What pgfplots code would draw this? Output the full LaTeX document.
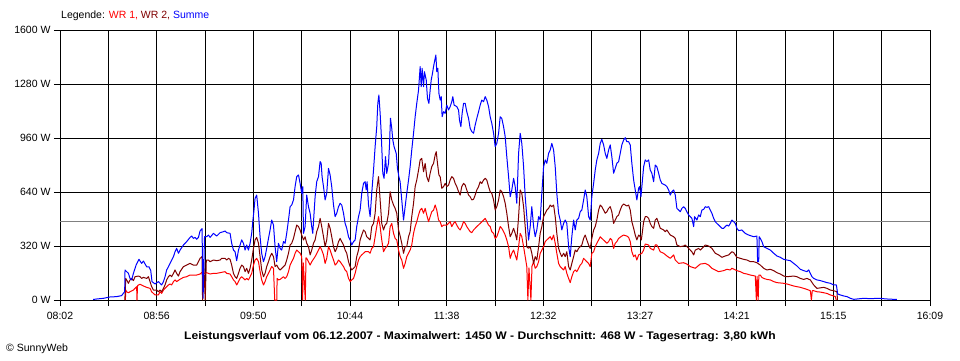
\documentclass[border=0pt]{standalone}
\usepackage{fontspec}
\setmainfont{Liberation Sans}
\usepackage{pgfplots}
\pgfplotsset{compat=1.18}
\definecolor{wrone}{RGB}{255,0,0}
\definecolor{wrtwo}{RGB}{128,0,0}
\definecolor{summe}{RGB}{0,0,255}
\definecolor{avg}{RGB}{128,128,128}
\begin{document}
\fontsize{10pt}{12pt}\selectfont
\begin{tikzpicture}[x=1pt,y=1pt]
\useasboundingbox (0,0) rectangle (960,360);
\begin{axis}[
  at={(60pt,60pt)}, anchor=south west,
  scale only axis, width=870pt, height=270pt,
  xmin=482, xmax=969, ymin=0, ymax=1600,
  xtick={482,509.056,536.111,563.167,590.222,617.278,644.333,671.389,698.444,725.5,752.556,779.611,806.667,833.722,860.778,887.833,914.889,941.944,969},
  xticklabels={08:02,,08:56,,09:50,,10:44,,11:38,,12:32,,13:27,,14:21,,15:15,,16:09},
  ytick={0,320,640,960,1280,1600},
  yticklabels={0 W,320 W,640 W,960 W,1280 W,1600 W},
  grid=major, major grid style={black, line width=1pt},
  axis line style={black, line width=1pt},
  tick pos=left, tick align=outside, major tick length=6pt,
  tick style={black, line width=1pt},
  ticklabel style={font=\fontsize{10.5}{12}\selectfont},
  xticklabel style={yshift=-3pt},
  every axis plot/.append style={line width=1pt, line join=round},
]
\addplot[avg, forget plot] coordinates {(482,468) (969,468)};
% WR 1
\addplot[wrone] coordinates {
(518.6,0) (518.8,59) (519.3,49) (520.3,43) (521.2,49) (523.1,59) (524.0,69) (524.9,79) (525.1,0) (525.4,84) (525.9,89) (526.8,93) (528.7,83) (530.5,75) (532.4,69) (533.3,49) (534.3,39) (535.2,30) (537.1,30) (538.0,49) (538.9,39) (539.9,59) (541.7,79) (542.7,89) (543.6,95) (544.5,89) (545.5,109) (546.4,119) (547.3,109) (549.2,123) (551.1,134) (552.9,138) (554.8,148) (556.7,148) (558.5,148) (560.4,154) (561.3,162) (563.2,158) (564.1,162) (566.0,154) (567.9,158) (569.7,158) (571.6,162) (574.4,168) (575.3,158) (577.2,154) (578.1,138) (579.1,119) (580.0,109) (580.9,89) (581.9,109) (582.8,128) (583.7,138) (585.6,119) (586.5,128) (587.5,119) (588.4,138) (589.3,158) (590.3,207) (591.2,237) (592.1,247) (593.1,227) (594.0,168) (594.9,119) (595.9,89) (596.8,109) (597.7,138) (598.7,158) (599.6,178) (600.5,198) (601.5,188) (602.2,0) (603.4,0) (603.5,128) (604.3,119) (605.2,122) (607.1,138) (608.0,128) (608.9,138) (609.9,168) (610.8,207) (611.7,227) (612.7,247) (613.6,277) (614.5,296) (615.5,286) (616.4,277) (617.3,257) (617.8,0) (618.2,220) (619.3,0) (619.7,250) (620.1,247) (621.1,227) (622.0,207) (622.9,227) (624.8,257) (626.7,296) (627.6,316) (628.5,296) (629.5,267) (630.4,217) (631.3,247) (632.3,316) (633.2,296) (634.1,267) (635.1,237) (636.0,207) (636.9,217) (637.9,237) (638.8,227) (640.7,198) (641.6,178) (642.5,168) (643.5,128) (644.4,109) (645.3,119) (646.3,128) (647.2,158) (648.1,198) (649.1,237) (650.0,257) (650.9,267) (652.8,286) (654.7,286) (655.6,277) (656.5,306) (657.5,316) (658.4,375) (659.3,435) (660.3,494) (661.2,435) (662.1,356) (663.1,286) (664.0,306) (664.9,316) (665.9,336) (666.8,435) (667.7,454) (668.7,395) (669.6,365) (670.5,356) (671.5,296) (672.4,257) (673.3,237) (674.3,188) (675.2,217) (676.1,257) (677.1,277) (678.0,296) (678.9,326) (679.9,395) (680.8,435) (681.7,464) (682.7,504) (683.6,533) (684.5,543) (685.5,514) (686.4,543) (687.3,504) (688.3,464) (689.2,494) (690.1,523) (691.1,533) (692.0,563) (692.9,533) (693.9,474) (694.8,464) (695.7,435) (696.7,444) (698.5,444) (699.5,454) (700.4,464) (701.3,435) (702.3,454) (703.2,464) (704.1,444) (705.1,425) (706.0,415) (706.9,435) (707.9,464) (708.8,454) (709.7,435) (711.6,405) (712.5,399) (713.5,415) (715.3,435) (717.2,454) (719.1,474) (720.0,484) (720.9,464) (721.9,444) (722.8,435) (723.7,405) (724.7,395) (725.6,365) (726.5,375) (727.5,405) (728.4,435) (729.3,425) (730.3,405) (731.2,385) (732.1,356) (733.1,316) (734.0,247) (734.9,277) (735.9,296) (736.8,267) (737.7,237) (738.7,316) (739.6,395) (740.5,375) (741.5,316) (742.4,257) (743.3,198) (743.9,0) (744.5,190) (745.6,0) (746.2,200) (747.1,227) (748.0,188) (748.9,198) (749.9,227) (750.8,277) (751.7,296) (752.7,316) (753.6,346) (754.5,356) (756.4,375) (757.3,356) (758.3,385) (759.2,336) (760.1,277) (761.1,217) (762.0,198) (762.9,188) (763.9,178) (764.8,198) (765.7,158) (766.7,128) (767.6,103) (768.5,138) (769.5,168) (770.4,178) (771.3,168) (772.3,188) (773.2,207) (774.1,217) (775.1,247) (776.0,237) (776.9,227) (777.9,217) (778.8,198) (779.7,277) (780.7,286) (781.6,316) (782.5,336) (783.5,356) (784.4,375) (785.3,365) (787.2,346) (788.1,336) (789.1,346) (790.0,365) (790.9,356) (791.9,306) (792.8,336) (793.7,346) (794.7,365) (796.5,379) (797.5,385) (799.3,379) (800.3,371) (801.2,346) (802.1,286) (803.1,257) (804.0,267) (804.9,237) (805.9,267) (807.7,277) (808.7,296) (809.6,332) (811.5,326) (812.4,306) (814.3,296) (815.2,326) (816.1,326) (817.1,306) (818.0,286) (819.9,277) (821.7,261) (823.6,247) (825.5,267) (826.4,237) (828.3,217) (831.1,221) (832.9,213) (834.8,198) (837.6,188) (840.4,213) (843.2,217) (845.1,207) (846.9,188) (848.8,178) (850.7,168) (853.5,174) (855.3,182) (857.2,178) (858.1,188) (860.9,174) (862.8,168) (864.7,158) (866.5,154) (868.4,148) (871.2,142) (871.8,0) (872.2,140) (872.8,0) (873.2,148) (874.0,148) (874.9,134) (875.9,128) (877.7,122) (879.6,119) (881.5,109) (883.3,103) (887.1,99) (888.9,95) (890.8,89) (892.7,83) (894.5,79) (896.4,75) (898.3,69) (900.1,63) (902.0,55) (902.6,0) (903.1,55) (903.9,55) (905.7,49) (907.6,47) (909.5,43) (911.3,39) (913.2,30) (915.1,24) (916.0,20) (916.5,0)
};
% WR 2
\addplot[wrtwo] coordinates {
(518.3,0) (518.8,128) (519.3,119) (520.3,99) (521.2,119) (522.1,128) (523.1,115) (524.0,138) (525.9,142) (526.8,138) (527.7,128) (528.7,134) (530.5,128) (531.5,138) (532.4,109) (533.3,79) (534.3,59) (536.1,59) (537.1,49) (538.0,59) (538.9,49) (539.9,69) (540.8,89) (541.7,119) (542.7,138) (543.6,148) (544.5,138) (545.5,158) (546.4,178) (547.3,158) (548.3,142) (549.2,168) (551.1,198) (552.9,207) (554.8,217) (556.7,207) (558.5,207) (559.5,227) (560.4,247) (561.5,257) (561.8,0) (562.4,240) (563.3,0) (563.9,237) (565.1,237) (566.0,227) (567.9,237) (569.7,233) (571.6,237) (572.5,247) (574.4,247) (575.3,237) (576.3,247) (577.2,241) (578.1,207) (579.1,158) (580.0,138) (580.9,128) (581.9,158) (582.8,188) (583.7,207) (584.7,198) (585.6,168) (586.5,188) (587.5,158) (588.4,188) (589.3,237) (590.3,306) (591.2,356) (592.1,371) (593.1,336) (594.0,257) (594.9,178) (595.9,138) (596.8,158) (597.7,198) (598.7,227) (599.6,257) (600.5,277) (601.5,257) (602.4,198) (603.3,207) (604.3,188) (605.2,178) (607.1,198) (608.0,207) (608.9,237) (609.9,277) (610.8,326) (611.7,336) (612.7,365) (613.6,405) (614.5,444) (615.5,435) (616.4,415) (617.3,385) (618.3,356) (619.2,375) (620.1,336) (621.1,316) (622.0,267) (622.9,296) (623.9,336) (624.8,356) (625.7,405) (626.7,435) (627.6,484) (628.5,435) (629.5,375) (630.4,316) (631.3,356) (632.3,454) (633.2,425) (634.1,375) (635.1,316) (636.0,286) (636.9,306) (637.9,346) (638.8,365) (639.7,346) (640.7,326) (641.6,296) (642.5,277) (643.5,227) (644.4,198) (645.3,178) (646.3,188) (647.2,198) (648.1,257) (649.1,296) (650.0,356) (650.9,385) (651.9,415) (652.8,405) (653.7,375) (655.6,356) (656.5,435) (657.5,454) (658.4,514) (659.3,652) (660.3,731) (661.2,593) (662.1,454) (663.1,415) (664.0,444) (664.9,454) (665.9,514) (666.8,642) (667.7,593) (668.7,563) (669.6,543) (670.5,514) (671.5,415) (672.4,380) (673.3,336) (674.3,277) (675.2,316) (676.1,316) (677.1,375) (678.0,405) (678.9,494) (679.9,573) (680.8,672) (681.7,711) (682.7,770) (683.6,830) (684.5,839) (685.5,760) (686.4,810) (687.3,731) (688.3,701) (689.2,751) (690.1,790) (691.1,810) (692.0,859) (692.6,879) (693.3,810) (694.1,741) (694.8,731) (695.7,662) (696.7,672) (697.6,691) (698.5,672) (699.5,681) (700.4,711) (701.3,731) (702.3,721) (703.2,691) (704.1,672) (705.1,642) (706.0,622) (706.9,672) (707.9,691) (708.8,681) (709.7,652) (710.7,622) (711.6,612) (712.5,593) (713.5,597) (714.4,622) (715.3,652) (716.3,672) (717.2,701) (718.1,691) (719.1,711) (720.0,721) (720.9,711) (721.9,672) (722.8,642) (723.7,632) (724.7,593) (725.6,533) (726.5,553) (727.5,593) (728.4,652) (729.3,642) (730.3,612) (731.2,573) (732.1,514) (733.1,435) (734.0,375) (734.9,395) (735.9,425) (736.8,395) (737.7,356) (738.7,494) (739.6,652) (740.5,632) (741.5,553) (742.4,435) (743.3,316) (744.3,306) (745.2,316) (746.1,277) (747.1,217) (748.0,257) (748.9,237) (749.9,316) (750.8,395) (751.7,435) (752.7,494) (753.6,514) (754.5,533) (755.5,543) (756.4,563) (757.3,553) (758.3,563) (759.2,494) (760.1,395) (761.1,306) (762.0,277) (762.9,257) (763.9,277) (764.8,257) (765.7,286) (766.7,198) (767.6,178) (768.5,217) (769.5,257) (770.4,296) (771.3,286) (772.3,306) (773.2,316) (774.1,326) (775.1,365) (776.0,385) (776.9,356) (777.9,326) (778.8,306) (779.7,365) (780.7,415) (781.6,435) (782.5,474) (783.5,533) (784.4,563) (785.3,553) (786.3,533) (787.2,514) (788.1,523) (789.1,543) (790.0,553) (790.9,523) (791.9,454) (792.8,474) (793.7,494) (794.7,504) (795.6,533) (796.5,557) (797.5,569) (799.3,557) (800.3,563) (801.2,533) (802.1,464) (803.1,425) (804.0,385) (804.9,356) (805.9,385) (806.8,375) (807.4,356) (807.9,395) (808.7,464) (809.6,494) (810.5,494) (811.5,484) (812.4,454) (813.3,435) (814.3,425) (815.2,474) (816.1,484) (817.1,454) (818.0,425) (819.9,415) (820.8,405) (821.7,415) (823.6,385) (825.5,375) (826.4,365) (827.3,326) (829.2,316) (831.1,320) (832.0,326) (833.9,306) (835.7,286) (836.7,267) (837.6,296) (839.5,306) (840.4,296) (842.3,316) (843.2,326) (845.1,320) (846.9,306) (848.8,277) (850.7,267) (852.5,253) (854.4,261) (856.3,267) (857.2,277) (858.1,286) (859.1,281) (860.0,267) (860.9,253) (862.8,247) (864.7,241) (866.5,237) (868.4,227) (870.3,227) (872.1,221) (874.0,207) (875.9,188) (877.7,178) (879.6,182) (881.5,174) (883.3,162) (885.2,154) (887.1,142) (888.9,138) (892.7,142) (894.5,138) (896.4,128) (898.3,122) (900.1,128) (902.0,119) (903.9,89) (905.7,69) (909.5,75) (911.3,69) (913.2,59) (915.1,55) (916.9,49) (917.2,0)
};
% Summe
\addplot[summe] coordinates {
(500.5,3) (502.5,6) (506.3,10) (510.0,18) (513.7,20) (516.5,26) (517.5,40) (518.2,49) (518.4,178) (519.3,168) (520.3,158) (521.2,128) (522.1,119) (523.1,158) (524.6,207) (526.2,241) (527.7,217) (528.7,231) (530.5,197) (531.8,197) (532.8,174) (533.5,109) (535.2,95) (537.1,109) (538.0,99) (538.9,89) (539.9,109) (540.8,138) (541.7,178) (542.7,197) (543.6,217) (545.5,257) (546.4,286) (547.3,306) (548.3,277) (549.2,296) (551.1,326) (552.9,346) (554.8,371) (555.7,379) (556.7,365) (557.6,371) (558.5,360) (559.5,371) (560.4,409) (561.5,423) (562.1,10) (562.9,375) (564.1,375) (565.1,385) (566.0,371) (567.9,395) (569.7,379) (571.6,399) (573.5,405) (574.4,409) (575.3,399) (577.2,395) (578.1,336) (579.1,296) (580.0,286) (580.9,233) (581.9,296) (582.8,326) (583.7,356) (584.7,336) (585.6,296) (586.5,326) (587.5,296) (588.4,336) (589.3,395) (589.9,464) (590.6,533) (591.2,603) (592.1,622) (593.1,514) (594.0,375) (594.9,276) (595.9,227) (596.8,257) (597.7,306) (598.7,365) (599.6,415) (600.5,474) (601.5,444) (602.4,316) (603.3,227) (604.3,336) (605.2,306) (606.1,296) (607.1,346) (608.0,336) (608.9,395) (609.9,474) (610.8,553) (611.7,563) (612.7,593) (613.6,672) (614.5,731) (615.5,741) (616.4,691) (617.3,632) (617.9,672) (618.3,395) (619.2,435) (620.1,622) (621.1,553) (622.0,514) (622.9,435) (623.5,395) (624.2,514) (624.8,612) (625.7,701) (626.7,731) (627.6,820) (628.2,810) (628.7,731) (629.5,672) (630.4,593) (631.3,632) (632.3,780) (633.2,741) (634.1,672) (635.1,563) (636.0,494) (636.9,514) (637.9,553) (638.8,573) (639.7,563) (640.7,514) (641.6,454) (642.5,425) (643.5,375) (644.4,356) (645.3,326) (646.3,346) (647.2,356) (648.1,435) (649.1,494) (650.0,533) (650.9,632) (651.9,691) (652.8,701) (653.4,652) (653.9,701) (654.7,563) (655.6,494) (656.5,632) (657.5,770) (658.4,909) (659.3,1027) (659.9,1165) (660.5,1215) (661.2,1106) (661.8,988) (662.7,751) (663.4,721) (664.2,849) (664.9,751) (665.9,810) (666.4,909) (667.0,1077) (667.7,1017) (668.3,948) (669.0,909) (670.2,869) (670.9,780) (671.7,731) (672.4,700) (673.3,593) (674.3,474) (675.2,553) (676.1,632) (677.1,711) (678.0,790) (678.9,889) (679.9,988) (680.8,1086) (681.7,1165) (682.7,1244) (683.6,1383) (684.2,1264) (684.7,1373) (685.5,1264) (686.0,1353) (687.0,1304) (687.7,1195) (688.5,1165) (689.2,1244) (689.8,1304) (690.5,1343) (691.1,1383) (691.8,1422) (692.4,1452) (692.9,1353) (693.5,1373) (694.1,1225) (694.8,1185) (695.4,1205) (695.9,1086) (696.7,1116) (697.6,1106) (698.5,1155) (699.5,1126) (700.4,1146) (701.3,1175) (701.9,1205) (702.6,1155) (704.1,1146) (705.1,1126) (705.6,1067) (706.4,1027) (707.1,1106) (707.9,1165) (708.8,1165) (709.7,1116) (710.7,1076) (711.6,1017) (712.5,998) (713.5,988) (714.4,1037) (715.3,1076) (716.3,1116) (717.2,1155) (718.1,1185) (719.1,1175) (720.0,1205) (720.9,1185) (721.9,1146) (722.8,1086) (723.7,1047) (724.7,988) (725.6,909) (726.5,928) (727.5,988) (728.4,1086) (729.3,1076) (730.3,1027) (731.2,968) (732.1,849) (733.1,731) (734.0,612) (734.9,652) (735.9,721) (736.8,672) (737.7,573) (738.7,869) (739.6,988) (740.5,928) (741.5,790) (742.4,612) (743.3,494) (744.3,355) (745.2,435) (746.1,553) (747.1,435) (748.0,375) (748.9,415) (749.9,494) (750.8,474) (751.7,632) (752.7,790) (753.6,830) (754.5,810) (755.5,869) (756.4,889) (757.3,928) (758.3,889) (759.2,790) (760.1,632) (761.1,514) (762.0,474) (762.9,415) (763.9,454) (764.8,474) (765.7,454) (766.7,316) (767.6,257) (768.5,375) (769.5,474) (770.4,415) (771.3,474) (772.3,484) (773.2,523) (774.1,533) (775.1,593) (776.0,652) (776.9,612) (777.9,494) (778.8,474) (779.7,612) (780.7,691) (781.6,770) (782.5,830) (783.5,869) (784.4,928) (785.3,952) (786.3,919) (787.2,869) (788.1,839) (789.1,889) (790.0,919) (790.9,849) (791.9,751) (792.8,780) (793.7,810) (794.7,820) (795.6,869) (796.5,919) (797.5,948) (798.4,962) (799.3,938) (800.3,938) (801.2,919) (802.1,810) (803.1,711) (804.0,652) (804.9,593) (805.9,662) (806.4,672) (807.2,612) (807.7,672) (808.7,790) (809.6,830) (810.5,820) (811.5,830) (812.4,770) (813.3,751) (814.3,701) (815.2,800) (816.1,790) (817.1,751) (818.0,711) (818.9,691) (820.8,681) (821.7,672) (822.7,652) (823.6,622) (824.5,642) (825.5,652) (826.4,622) (827.3,543) (828.3,533) (829.2,523) (830.1,543) (831.1,553) (832.0,543) (832.9,523) (833.9,504) (834.8,494) (835.7,484) (836.7,435) (837.2,494) (838.5,474) (839.5,504) (840.4,494) (841.3,533) (842.3,537) (843.2,553) (844.1,549) (845.1,553) (846.0,533) (846.9,514) (847.9,484) (848.8,464) (849.7,454) (850.7,444) (851.6,435) (852.5,425) (853.5,425) (854.4,435) (855.3,444) (856.3,438) (857.2,454) (858.1,474) (859.1,464) (860.0,454) (860.9,425) (861.9,411) (863.7,415) (865.6,395) (867.5,385) (870.3,375) (872.1,379) (872.5,227) (873.1,227) (873.4,375) (874.0,365) (874.9,346) (875.9,316) (877.7,306) (879.6,296) (881.5,277) (883.3,261) (885.2,253) (887.1,241) (888.9,237) (890.8,233) (892.7,217) (894.5,202) (896.4,182) (898.3,174) (900.1,168) (901.1,178) (902.0,158) (902.9,138) (903.9,128) (905.7,119) (907.6,115) (909.5,109) (911.3,103) (913.2,99) (915.1,89) (916.6,89) (917.3,36) (918.8,30) (920.7,24) (922.5,20) (924.4,10) (926.3,4) (931.9,10) (935.6,8) (940.3,10) (945.0,6) (950.5,3)
};
\end{axis}
\node[anchor=west, inner sep=0pt, font=\fontsize{10.5}{12}\selectfont] at (61,344) {Legende: \textcolor{wrone}{WR 1,} \textcolor{wrtwo}{WR 2,} \textcolor{summe}{Summe}};
\node[inner sep=0pt] at (480,23) {\scalebox{1.1}[1]{\fontsize{11}{13}\selectfont\bfseries Leistungsverlauf vom 06.12.2007 - Maximalwert: 1450 W - Durchschnitt: 468 W - Tagesertrag: 3,80 kWh}};
\node[anchor=west, inner sep=0pt, font=\fontsize{10.5}{12}\selectfont] at (6,11) {\copyright\ SunnyWeb};
\end{tikzpicture}
\end{document}
